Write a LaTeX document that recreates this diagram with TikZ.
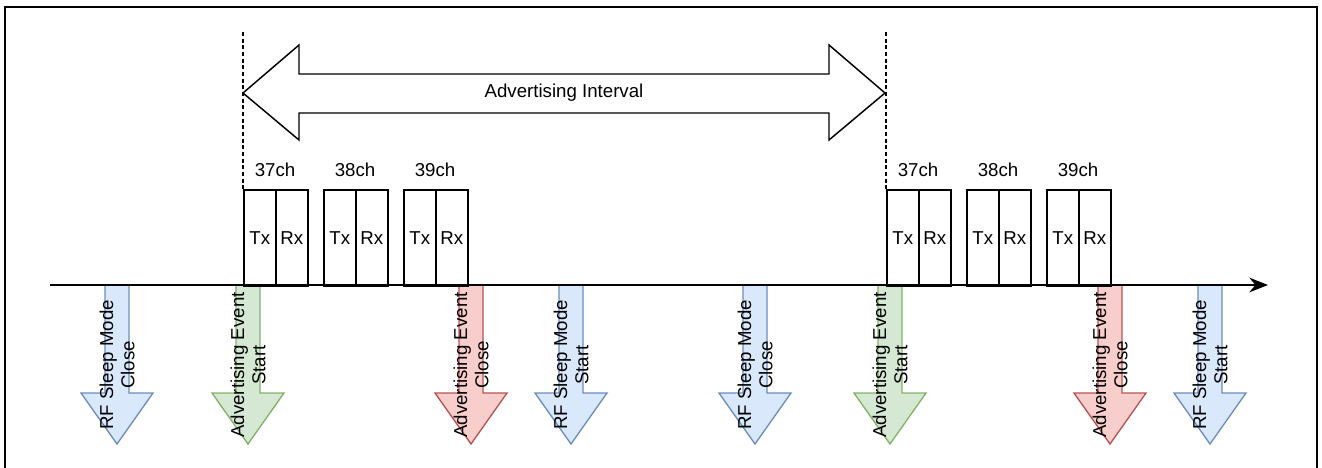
\documentclass[tikz,border=0pt]{standalone}
\usepackage{fontspec}
\setmainfont{Liberation Sans}
\usetikzlibrary{arrows.meta}
\definecolor{sleepfill}{HTML}{DAE8FC}
\definecolor{sleepline}{HTML}{6C8EBF}
\definecolor{startfill}{HTML}{D5E8D4}
\definecolor{startline}{HTML}{82B366}
\definecolor{closefill}{HTML}{F8CECC}
\definecolor{closeline}{HTML}{B85450}
\tikzset{
  cell/.style={draw,line width=1.2pt,minimum width=24pt,minimum height=72pt,inner sep=0pt,anchor=north west},
  evtext/.style={rotate=90,align=center,inner sep=0pt},
  sleep/.style={fill=sleepfill,draw=sleepline},
  start/.style={fill=startfill,draw=startline},
  close/.style={fill=closefill,draw=closeline},
  guide/.style={line width=1pt,dash pattern=on 3pt off 2pt},
}
\newcommand{\evshape}[2]{%
  \draw[line width=1pt,#2](#1-12,285)--(#1+12,285)--(#1+12,393)--(#1+36,393)--(#1,444)--(#1-36,393)--(#1-12,393)--cycle;}
\begin{document}
\begin{tikzpicture}[x=0.75pt,y=-0.75pt,font=\fontsize{14}{16}\selectfont]
\useasboundingbox (0,0) rectangle (1322,468);
\draw[line width=1.5pt](5,7) rectangle (1317,480);
% event arrows below the time line
\foreach \cx/\kind in {117/sleep,248/start,471/close,571/sleep,755/sleep,890/start,1110/close,1210/sleep}
  {\evshape{\cx}{\kind}}
% time line
\coordinate (t0) at (50,285);
\coordinate (t1) at (1268,285);
\draw[line width=1.4pt,-{Stealth[length=14pt,width=11pt]}](t0)--(t1);
% channels
\foreach \g/\s in {243/a,886/b}
  \foreach \c/\ch in {0/37,80/38,160/39}{
    \node[cell](tx-\s\ch) at (\g+\c,189){Tx};
    \node[cell](rx-\s\ch) at (\g+\c+32,189){Rx};
    \node(ch-\s\ch) at (\g+\c+32,170){\ch ch};
  }
% interval
\coordinate (da) at (243,32);
\coordinate (db) at (886,32);
\draw[guide](da)--(tx-a37.north west);
\draw[guide](db)--(tx-b37.north west);
\draw[line width=1.1pt,fill=white](243,93)--(299,45)--(299,74)--(829,74)--(829,45)--(885,93)--(829,140)--(829,113)--(299,113)--(299,140)--cycle;
\node(interval) at (564,93){Advertising Interval};
% event labels
\foreach \cx/\lna/\lnb [count=\i] in {117/RF Sleep Mode/Close,248/Advertising Event/Start,471/Advertising Event/Close,571/RF Sleep Mode/Start,755/RF Sleep Mode/Close,890/Advertising Event/Start,1110/Advertising Event/Close,1210/RF Sleep Mode/Start}
  \node[evtext](ev\i) at (\cx,365){\lna\\\lnb};
\end{tikzpicture}
\end{document}
